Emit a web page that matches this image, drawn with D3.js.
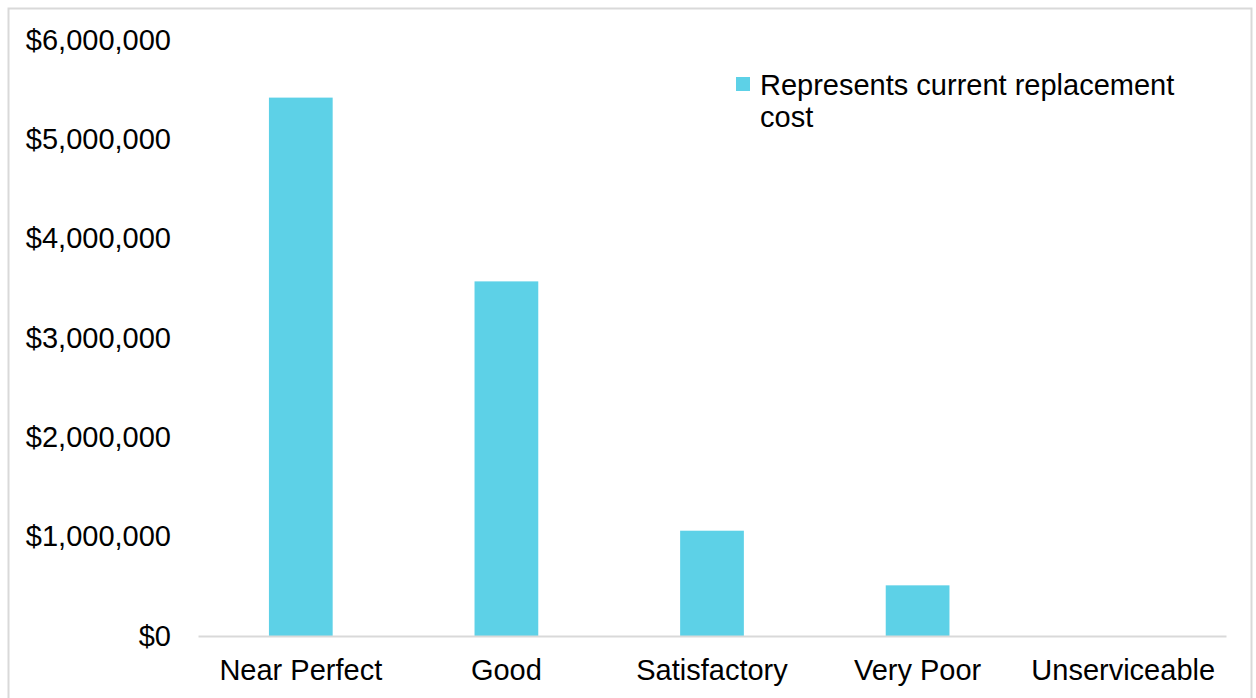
<!DOCTYPE html>
<html>
<head>
<meta charset="utf-8">
<script src="https://cdn.jsdelivr.net/npm/d3@7"></script>
<style>
  body { margin: 0; background: #fff; }
  svg { display: block; font-family: "Liberation Sans", Arial, sans-serif; }
</style>
</head>
<body>
<div id="chart"></div>
<script>
// condition categories and replacement cost
var categories = ["Near Perfect", "Good", "Satisfactory", "Very Poor", "Unserviceable"];
var costs = [5420000, 3570000, 1060000, 510000, 0];
var yTicks = [0, 1000000, 2000000, 3000000, 4000000, 5000000, 6000000];
var legendLines = ["Represents current replacement", "cost"];

var width = 1256, height = 698;
var margin = { top: 40, right: 30, bottom: 62, left: 198 };
var barColor = "#5dd1e7";
var fontSize = 29;

var svg = d3.select("#chart").append("svg")
  .attr("width", width)
  .attr("height", height);

// outer frame
svg.append("rect")
  .attr("x", 8.5).attr("y", 8.5)
  .attr("width", width - 13).attr("height", height + 10)
  .attr("fill", "none")
  .attr("stroke", "#d9d9d9")
  .attr("stroke-width", 2);

var x = d3.scaleBand()
  .domain(categories)
  .range([margin.left, width - margin.right])
  .paddingInner(0.69)
  .paddingOuter(0.345);

var y = d3.scaleLinear()
  .domain([0, 6000000])
  .range([height - margin.bottom, margin.top]);

var fmt = d3.format("$,");

// y axis labels (no line, no ticks)
var yAxis = d3.axisLeft(y).tickValues(yTicks).tickSize(0).tickPadding(27).tickFormat(fmt);
var gy = svg.append("g")
  .attr("transform", "translate(" + margin.left + ",0)")
  .call(yAxis);
gy.select(".domain").remove();
gy.selectAll("text")
  .attr("font-size", fontSize)
  .attr("font-family", "Liberation Sans, Arial, sans-serif")
  .attr("fill", "#000");

// bars
svg.append("g").selectAll("rect")
  .data(costs)
  .enter()
  .append("rect")
  .attr("x", function(d, i) { return x(categories[i]); })
  .attr("y", function(d) { return y(d); })
  .attr("width", x.bandwidth())
  .attr("height", function(d) { return y(0) - y(d); })
  .attr("fill", barColor);

// x axis
var xAxis = d3.axisBottom(x).tickSize(0).tickPadding(23);
var gx = svg.append("g")
  .attr("transform", "translate(0," + y(0) + ")")
  .call(xAxis);
gx.select(".domain")
  .attr("stroke", "#d9d9d9")
  .attr("stroke-width", 2);
gx.selectAll("text")
  .attr("font-size", fontSize)
  .attr("font-family", "Liberation Sans, Arial, sans-serif")
  .attr("fill", "#000");

// legend
var legend = svg.append("g").attr("transform", "translate(736,77)");
legend.append("rect")
  .attr("width", 14).attr("height", 14)
  .attr("fill", barColor);
legend.selectAll("text")
  .data(legendLines)
  .enter()
  .append("text")
  .attr("x", 24)
  .attr("y", function(d, i) { return 18 + i * 32; })
  .attr("font-size", fontSize)
  .attr("fill", "#000")
  .text(function(d) { return d; });
</script>
</body>
</html>
